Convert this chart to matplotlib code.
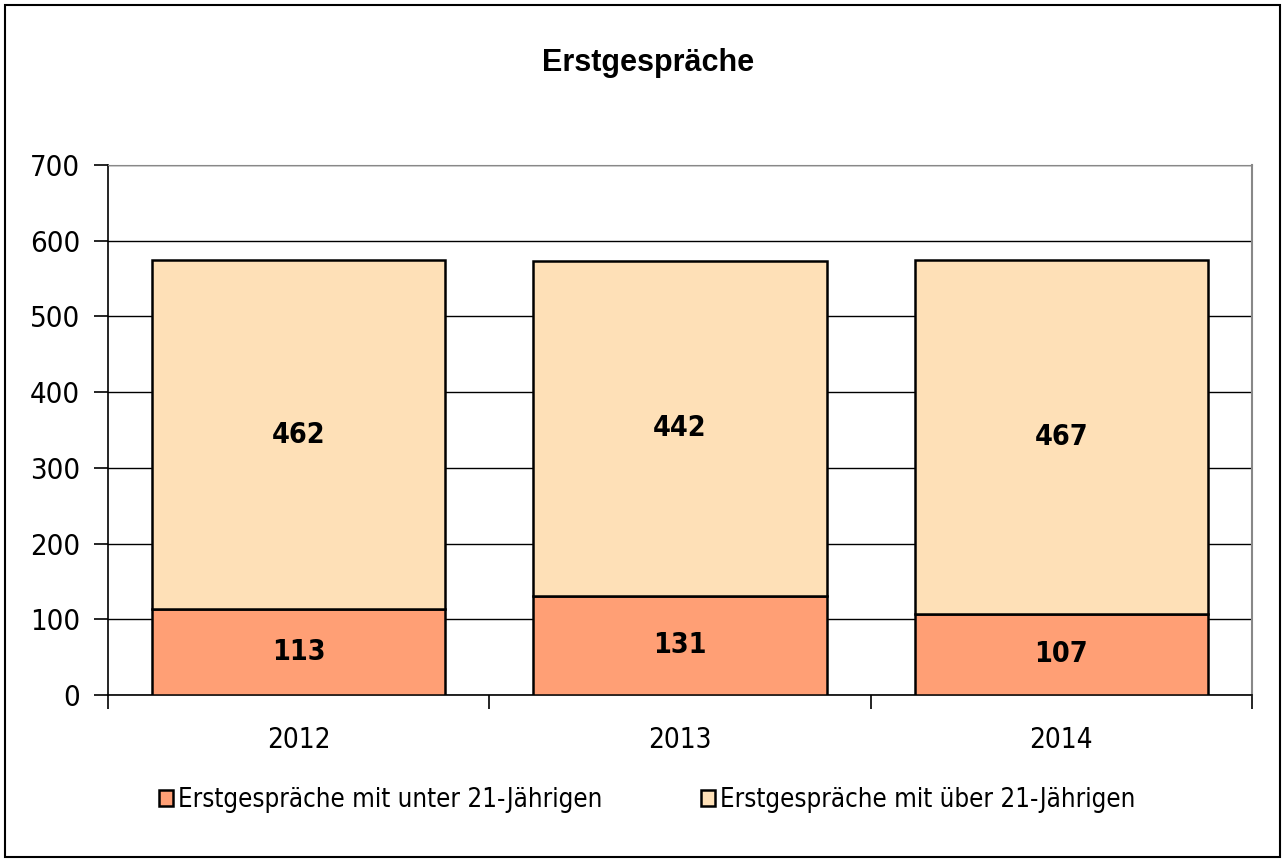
import numpy as np
import matplotlib.pyplot as plt
from matplotlib.patches import Rectangle

years = ['2012', '2013', '2014']
unter21 = [113, 131, 107]
ueber21 = [462, 442, 467]
series_names = ['Erstgespräche mit unter 21-Jährigen', 'Erstgespräche mit über 21-Jährigen']
title = 'Erstgespräche'

plt.rcParams['font.family'] = ['DejaVu Sans']
plt.rcParams['font.stretch'] = 'condensed'

fig = plt.figure(figsize=(12.84, 8.59), dpi=100)
ax = fig.add_axes([108 / 1284, 1 - 695 / 859, (1252 - 108) / 1284, (695 - 165) / 859])

# outer chart border
fig.patches.append(Rectangle((5 / 1284, 2 / 859), 1275 / 1284, 852 / 859, transform=fig.transFigure,
                             fill=False, edgecolor='black', linewidth=1.5))

x = np.arange(len(years))
w = 0.77
c_low = '#FF9F75'
c_high = '#FEE0B7'
b1 = ax.bar(x, unter21, w, color=c_low, edgecolor='black', linewidth=1.8, zorder=3, label=series_names[0])
b2 = ax.bar(x, ueber21, w, bottom=unter21, color=c_high, edgecolor='black', linewidth=1.8, zorder=3,
            label=series_names[1])

for i in range(len(years)):
    ax.text(x[i], unter21[i] / 2, str(unter21[i]), ha='center', va='center', fontsize=20.5,
            fontweight='bold', zorder=4)
    ax.text(x[i], unter21[i] + ueber21[i] / 2, str(ueber21[i]), ha='center', va='center', fontsize=20.5,
            fontweight='bold', zorder=4)

ax.set_xlim(-0.5, 2.5)
ax.set_ylim(0, 700)
ax.set_yticks(range(0, 701, 100))
ax.tick_params(axis='y', labelsize=21, length=10, width=1.2, direction='out', pad=10)
ax.set_xticks(x)
ax.set_xticklabels(years)
ax.tick_params(axis='x', labelsize=20, length=0, pad=22)
ax.set_xticks([-0.5, 0.5, 1.5, 2.5], minor=True)
ax.tick_params(axis='x', which='minor', length=10, width=1.2, direction='out')
ax.yaxis.grid(True, color='black', linewidth=1.0, zorder=0)
ax.spines['top'].set_color('#888888')
ax.spines['right'].set_color('#888888')
ax.spines['right'].set_linewidth(1.5)
ax.spines['left'].set_linewidth(1.2)
ax.spines['bottom'].set_linewidth(1.2)

fig.text(0.505, 1 - 63 / 859, title, ha='center', va='center', fontsize=22, fontweight='bold',
         family='Liberation Sans', stretch='normal')

fig.legend(handles=[b1, b2], loc='center', bbox_to_anchor=(0.504, 1 - 800 / 859), ncol=2, frameon=False,
           fontsize=18.5, handlelength=0.55, handleheight=0.55, handletextpad=0.2, columnspacing=3.85)

fig.savefig('out.png', dpi=100)
